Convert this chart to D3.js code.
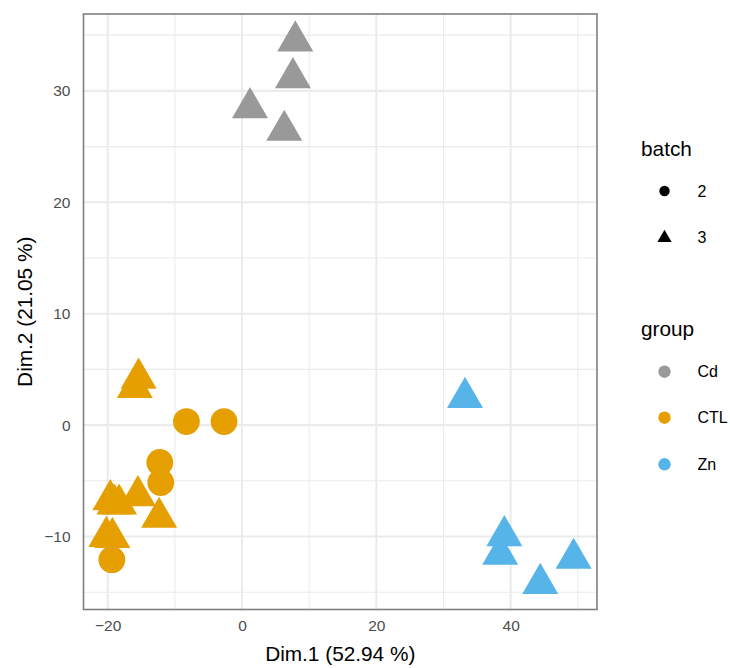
<!DOCTYPE html>
<html>
<head>
<meta charset="utf-8">
<script src="https://cdn.jsdelivr.net/npm/d3@7"></script>
<style>
  html, body { margin: 0; padding: 0; background: #fff; }
  svg { display: block; font-family: "Liberation Sans", Arial, Helvetica, sans-serif; }
</style>
</head>
<body>
<svg id="chart" width="730" height="668"></svg>
<script>
// ---- Data ----
const groups = ["Cd", "CTL", "Zn"];
const groupColors = ["#999999", "#E69F00", "#56B4E9"];
const batches = ["2", "3"];

const cdX = [7.93, 7.58, 1.19, 6.29];
const cdY = [34.47, 31.17, 28.48, 26.45];
const cdBatch = ["3", "3", "3", "3"];

const ctlX = [-8.28, -2.68, -12.24, -12.10, -19.38, -15.40, -15.96, -15.50, -12.34, -19.60, -19.00, -18.30, -20.20, -19.30];
const ctlY = [0.32, 0.32, -3.35, -5.15, -12.08, 4.20, 3.36, -6.35, -8.29, -6.70, -7.10, -7.10, -10.00, -10.10];
const ctlBatch = ["2", "2", "2", "2", "2", "3", "3", "3", "3", "3", "3", "3", "3", "3"];

const znX = [33.20, 39.06, 38.44, 49.37, 44.40];
const znY = [2.47, -9.94, -11.59, -11.97, -14.22];
const znBatch = ["3", "3", "3", "3", "3"];

const xMajor = [-20, 0, 20, 40];
const xMinor = [-10, 10, 30, 50];
const yMajor = [-10, 0, 10, 20, 30];
const yMinor = [-15, -5, 5, 15, 25, 35];

const xTitle = "Dim.1 (52.94 %)";
const yTitle = "Dim.2 (21.05 %)";

// ---- Build points ----
const points = [];
[[cdX, cdY, cdBatch, "Cd"], [ctlX, ctlY, ctlBatch, "CTL"], [znX, znY, znBatch, "Zn"]].forEach(([xs, ys, bs, g]) => {
  xs.forEach((x, i) => points.push({ x: x, y: ys[i], batch: bs[i], group: g }));
});

const svg = d3.select("#chart");
const panel = { left: 83.5, right: 597, top: 14, bottom: 609.5 };

const x = d3.scaleLinear().domain([-23.6, 52.85]).range([panel.left, panel.right]);
const y = d3.scaleLinear().domain([-16.55, 36.9]).range([panel.bottom, panel.top]);
const color = d3.scaleOrdinal().domain(groups).range(groupColors);

const triPath = r => {
  const h = r * Math.sqrt(3) / 2;
  return `M0,${-r}L${h},${r / 2}L${-h},${r / 2}Z`;
};

// grid
const grid = svg.append("g");
grid.selectAll(".xminor").data(xMinor).join("line")
  .attr("x1", d => x(d)).attr("x2", d => x(d))
  .attr("y1", panel.top).attr("y2", panel.bottom)
  .attr("stroke", "#ebebeb").attr("stroke-width", 1.1);
grid.selectAll(".yminor").data(yMinor).join("line")
  .attr("y1", d => y(d)).attr("y2", d => y(d))
  .attr("x1", panel.left).attr("x2", panel.right)
  .attr("stroke", "#ebebeb").attr("stroke-width", 1.1);
grid.selectAll(".xmajor").data(xMajor).join("line")
  .attr("x1", d => x(d)).attr("x2", d => x(d))
  .attr("y1", panel.top).attr("y2", panel.bottom)
  .attr("stroke", "#ebebeb").attr("stroke-width", 2.1);
grid.selectAll(".ymajor").data(yMajor).join("line")
  .attr("y1", d => y(d)).attr("y2", d => y(d))
  .attr("x1", panel.left).attr("x2", panel.right)
  .attr("stroke", "#ebebeb").attr("stroke-width", 2.1);

// points
const pg = svg.append("g");
points.forEach(p => {
  if (p.batch === "2") {
    pg.append("circle").attr("cx", x(p.x)).attr("cy", y(p.y)).attr("r", 13.4)
      .attr("fill", color(p.group));
  } else {
    pg.append("path").attr("d", triPath(20.8))
      .attr("transform", `translate(${x(p.x)},${y(p.y)})`)
      .attr("fill", color(p.group));
  }
});

// panel border
svg.append("rect")
  .attr("x", panel.left).attr("y", panel.top)
  .attr("width", panel.right - panel.left).attr("height", panel.bottom - panel.top)
  .attr("fill", "none").attr("stroke", "#7f7f7f").attr("stroke-width", 1.6);

// axes (labels only, via d3 axes)
const xAxis = svg.append("g").attr("transform", `translate(0,${panel.bottom})`)
  .call(d3.axisBottom(x).tickValues(xMajor).tickSize(0).tickPadding(10)
    .tickFormat(d => d < 0 ? "\u2212" + Math.abs(d) : d));
xAxis.select(".domain").remove();
xAxis.selectAll("text").attr("fill", "#4d4d4d").attr("font-size", 15.5)
  .attr("font-family", "Liberation Sans, Arial, sans-serif");

const yAxis = svg.append("g").attr("transform", `translate(${panel.left},0)`)
  .call(d3.axisLeft(y).tickValues(yMajor).tickSize(0).tickPadding(13)
    .tickFormat(d => d < 0 ? "\u2212" + Math.abs(d) : d));
yAxis.select(".domain").remove();
yAxis.selectAll("text").attr("fill", "#4d4d4d").attr("font-size", 15.5)
  .attr("font-family", "Liberation Sans, Arial, sans-serif");

// axis titles
svg.append("text").attr("x", (panel.left + panel.right) / 2).attr("y", 661)
  .attr("text-anchor", "middle").attr("font-size", 20.8).attr("fill", "#000").text(xTitle);
svg.append("text")
  .attr("transform", `translate(32,${(panel.top + panel.bottom) / 2}) rotate(-90)`)
  .attr("text-anchor", "middle").attr("font-size", 20.8).attr("fill", "#000").text(yTitle);

// legends
const lg = svg.append("g");
lg.append("text").attr("x", 641).attr("y", 156).attr("font-size", 20.8).text("batch");
const batchY = [191, 237];
batches.forEach((b, i) => {
  if (b === "2") {
    lg.append("circle").attr("cx", 664.5).attr("cy", batchY[i]).attr("r", 5.2).attr("fill", "#000");
  } else {
    lg.append("path").attr("d", triPath(8.2)).attr("transform", `translate(664.5,${batchY[i] + 1})`).attr("fill", "#000");
  }
  lg.append("text").attr("x", 697.5).attr("y", batchY[i]).attr("dy", "0.36em")
    .attr("font-size", 16).text(b);
});

lg.append("text").attr("x", 641).attr("y", 336).attr("font-size", 20.8).text("group");
const groupY = [371.7, 417.7, 464.3];
groups.forEach((g, i) => {
  lg.append("circle").attr("cx", 664.5).attr("cy", groupY[i]).attr("r", 6.2).attr("fill", color(g));
  lg.append("text").attr("x", 697.5).attr("y", groupY[i]).attr("dy", "0.36em")
    .attr("font-size", 16).text(g);
});
</script>
</body>
</html>
